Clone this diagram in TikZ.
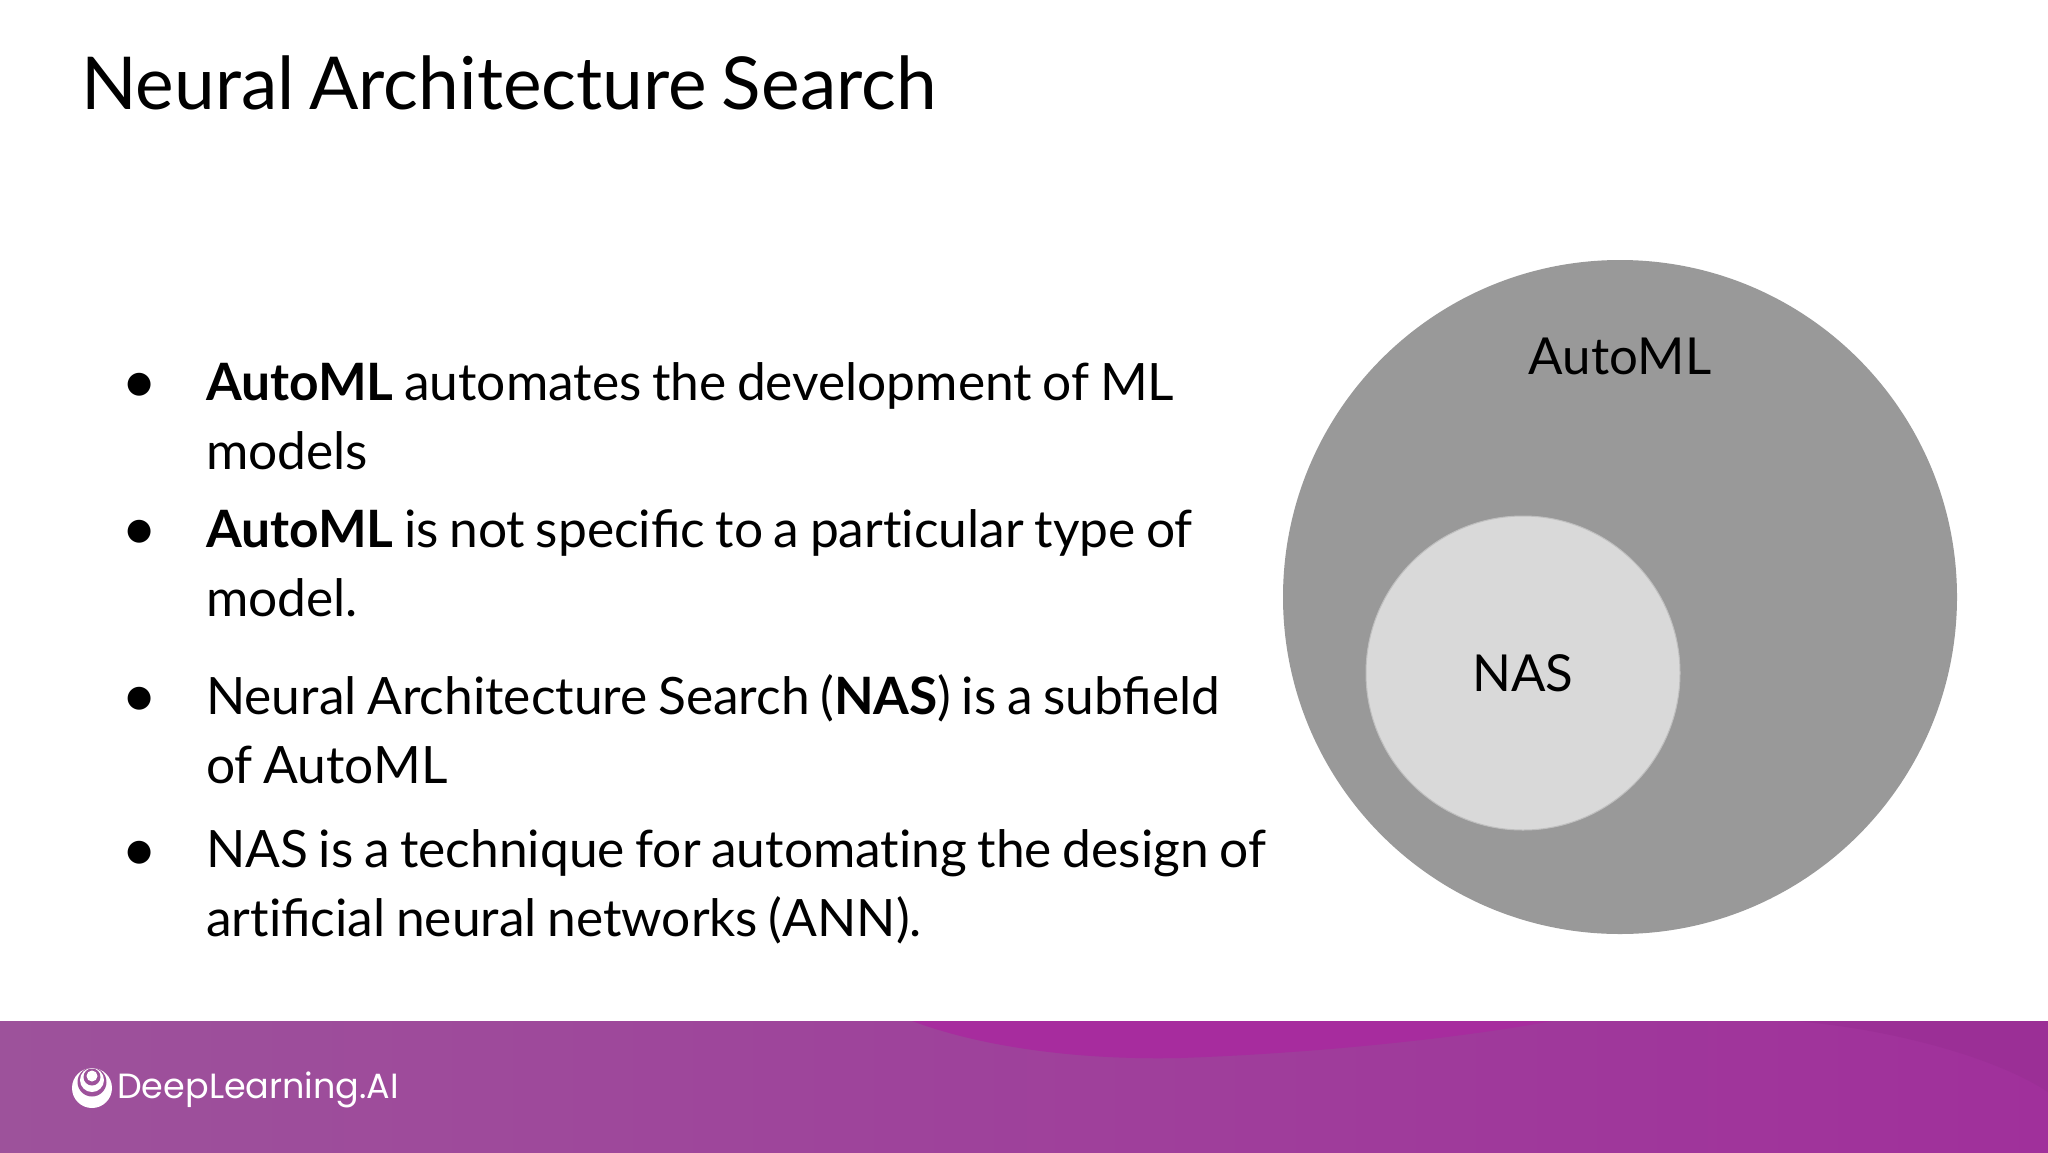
\documentclass[tikz,border=0pt]{standalone}
\usepackage{fontspec}
\setmainfont{Lato}
\newfontfamily\tightfont[WordSpace=0.8]{Lato}
\newfontfamily\bulletfont{DejaVu Sans}
\newfontfamily\logofont{Poppins}
\newcommand{\tii}{t\kern0pt i}
\definecolor{bandleft}{RGB}{157,82,155}
\definecolor{bandright}{RGB}{160,48,155}
\definecolor{swoosh}{RGB}{167,44,158}
\definecolor{bigcircle}{RGB}{153,153,153}
\definecolor{smallcircle}{RGB}{217,217,217}
\tikzset{
	bodystyle/.style={anchor=north west, inner sep=0pt, align=left, font=\tightfont\fontsize{51.5}{69.6}\selectfont},
	bulletstyle/.style={inner sep=0pt, font=\bulletfont\fontsize{30}{30}\selectfont},
	labelstyle/.style={inner sep=0pt, font=\fontsize{51}{51}\selectfont},
	bigstyle/.style={circle, inner sep=0pt, fill=bigcircle, minimum size=674},
	smallstyle/.style={circle, inner sep=0pt, fill=smallcircle, draw=black!25, line width=1pt, minimum size=314}
}
\begin{document}
\begin{tikzpicture}[x=1pt,y=-1pt]
	\useasboundingbox (0,0) rectangle (2048,1152);
	\fill[white] (0,0) rectangle (2048,1152);
	% footer band
	\shade[left color=bandleft, right color=bandright] (0,1021) rectangle (2048,1152);
	\fill[swoosh] (912,1021) .. controls (990,1050) and (1090,1060) .. (1180,1058) .. controls (1300,1054) and (1450,1040) .. (1552,1021) -- cycle;
	\fill[bandright!97!black] (1795,1021) .. controls (1900,1030) and (2000,1060) .. (2048,1092) -- (2048,1021) -- cycle;
	% title
	\node[anchor=base west, inner sep=0pt, font=\tightfont\fontsize{73}{73}\selectfont] (title) at (81,109) {Neural Architecture Search};
	% bullets
	\node[bulletstyle] (dota) at (140,385) {●};
	\node[bulletstyle] (dotb) at (140,532) {●};
	\node[bulletstyle] (dotc) at (140,699) {●};
	\node[bulletstyle] (dotd) at (140,853) {●};
	\node[bodystyle] (automla) at (206,362) {\textbf{AutoML} automates the development of ML\\models};
	\node[bodystyle] (automlb) at (206,509) {\textbf{AutoML} is not specific to a par\tii cular type of\\model.};
	\node[bodystyle] (nasa) at (206,674) {Neural Architecture Search (\textbf{NAS}) is a subfield\\of AutoML};
	\node[bodystyle] (nasb) at (206,829) {NAS is a technique for automa\tii ng the design of\\ar\tii ficial neural networks (ANN).};
	% circles
	\node[bigstyle] (big) at (1620,597) {};
	\node[labelstyle] (biglabel) at (1620,356) {AutoML};
	\node[smallstyle, labelstyle, inner sep=0pt] (small) at (1523,673) {NAS};
	% logo
	\fill[white] (92,1088) circle (20);
	\fill[bandleft] (92,1082) circle (14.5);
	\fill[white] (92,1080) circle (12);
	\fill[bandleft] (92,1077) circle (8.5);
	\fill[white] (92,1076) circle (5.5);
	\node[anchor=base west, inner sep=0pt, text=white, font=\logofont\fontsize{35}{35}\selectfont] (logo) at (117,1098) {DeepLearning.AI};
\end{tikzpicture}
\end{document}
